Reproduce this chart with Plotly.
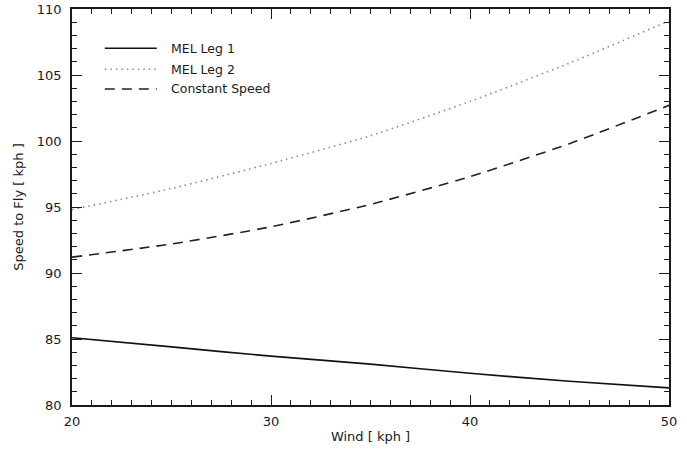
import plotly.graph_objects as go

# Wind speed [kph] and corresponding speed-to-fly [kph] for each strategy
wind = [20, 25, 30, 35, 40, 45, 50]
mel_leg1 = [85.1, 84.4, 83.7, 83.1, 82.4, 81.8, 81.3]
mel_leg2 = [94.8, 96.4, 98.3, 100.4, 103.0, 105.9, 109.1]
constant_speed = [91.2, 92.2, 93.5, 95.2, 97.3, 99.8, 102.7]

series_names = ["MEL Leg 1", "MEL Leg 2", "Constant Speed"]
x_ticks = [20, 30, 40, 50]
y_ticks = [80, 85, 90, 95, 100, 105, 110]

FONT = "DejaVu Sans"
INK = "#1a1a1a"

styles = [
    dict(color="#111111", width=1.6, dash="solid"),
    dict(color="#8a8a8a", width=1.6, dash="1.5px,4px"),
    dict(color="#222222", width=1.6, dash="10px,7px"),
]

fig = go.Figure()
for name, ys, st in zip(series_names, [mel_leg1, mel_leg2, constant_speed], styles):
    fig.add_trace(go.Scatter(
        x=wind, y=ys, name=name, mode="lines",
        line=dict(shape="spline", smoothing=0.6, **st),
        showlegend=False,
    ))

# Hand-drawn legend block in the upper-left corner
legend_y = [0.901, 0.848, 0.798]
for name, st, ly in zip(series_names, styles, legend_y):
    fig.add_shape(type="line", xref="paper", yref="paper",
                  x0=0.055, x1=0.142, y0=ly, y1=ly,
                  line=dict(color=st["color"], width=st["width"], dash=st["dash"]))
    fig.add_annotation(xref="paper", yref="paper", x=0.163, y=ly,
                       text=name, showarrow=False, xanchor="left", yanchor="middle",
                       font=dict(family=FONT, size=12.5, color=INK))

axis_common = dict(
    showgrid=False, zeroline=False, automargin=False,
    showline=True, linecolor=INK, linewidth=1.5,
    mirror="allticks", ticks="inside", tickcolor=INK, tickwidth=1.2, ticklen=10,
    tickfont=dict(family=FONT, size=13, color=INK),
)

fig.update_xaxes(
    range=[20, 50], tickvals=x_ticks,
    minor=dict(dtick=1, ticks="inside", ticklen=5, tickcolor=INK, tickwidth=1),
    title=dict(text="Wind [ kph ]", font=dict(family=FONT, size=13, color=INK), standoff=4),
    ticklabelstandoff=4,
    **axis_common,
)
fig.update_yaxes(
    range=[80, 110], tickvals=y_ticks,
    minor=dict(dtick=1, ticks="inside", ticklen=5, tickcolor=INK, tickwidth=1),
    title=dict(text="Speed to Fly [ kph ]", font=dict(family=FONT, size=13, color=INK), standoff=10),
    ticklabelstandoff=6,
    **axis_common,
)

fig.update_layout(
    width=687, height=453,
    margin=dict(l=72, r=18, t=9, b=48),
    paper_bgcolor="white", plot_bgcolor="white",
)

fig.write_html("out.html")
